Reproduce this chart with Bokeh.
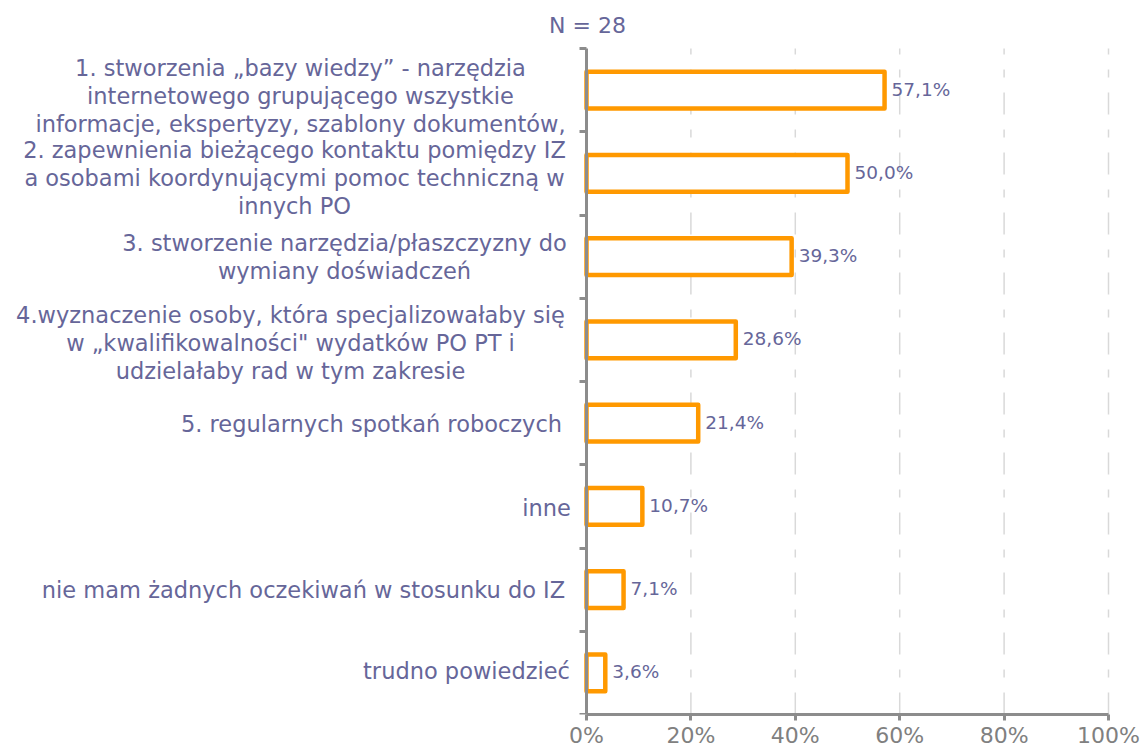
from bokeh.plotting import figure
from bokeh.models import Range1d, FixedTicker, PrintfTickFormatter, ColumnDataSource
from bokeh.core.properties import value
from bokeh.embed import file_html
from bokeh.resources import INLINE

# ---- data ----
categories = [
    "1. stworzenia \u201ebazy wiedzy\u201d - narz\u0119dzia\ninternetowego grupuj\u0105cego wszystkie\ninformacje, ekspertyzy, szablony dokument\u00f3w,",
    "2. zapewnienia bie\u017c\u0105cego kontaktu pomi\u0119dzy IZ\na osobami koordynuj\u0105cymi pomoc techniczn\u0105 w\ninnych PO",
    "3. stworzenie narz\u0119dzia/p\u0142aszczyzny do\nwymiany do\u015bwiadcze\u0144",
    "4.wyznaczenie osoby, kt\u00f3ra specjalizowa\u0142aby si\u0119\nw \u201ekwalifikowalno\u015bci\" wydatk\u00f3w PO PT i\nudziela\u0142aby rad w tym zakresie",
    "5. regularnych spotka\u0144 roboczych",
    "inne",
    "nie mam \u017cadnych oczekiwa\u0144 w stosunku do IZ",
    "trudno powiedzie\u0107",
]
values = [57.1, 50.0, 39.3, 28.6, 21.4, 10.7, 7.1, 3.6]
x_ticks = [0, 20, 40, 60, 80, 100]
n_label = "N = 28"

# ---- styles / layout ----
TEXT = "#666699"
FONT = "DejaVu Sans"
ORANGE = "#FF9900"
AXIS = "#8C8C8C"
W, H = 1142, 751
AXIS_X = 586            # pixel position of 0 %
FULL_X = 1108           # pixel position of 100 %
FRAME_TOP_PLOT = 48     # pixel of top of category area
FRAME_BOTTOM = 714      # pixel of x axis
BORDER_LEFT = 10
# horizontal centre of each category text block, px from the y axis
label_center_offsets = [-286, -292, -242, -296, -215, -40, -283, -120]
label_y_offsets = [6, 5, 0, 3, 1, 2, 0, -2]

n = len(categories)
ypos = [n - i - 0.5 for i in range(n)]
labels = [f"{v:.1f}".replace(".", ",") + "%" for v in values]

pxu = (FULL_X - AXIS_X) / 100.0
x_start = -(AXIS_X - BORDER_LEFT) / pxu
x_end = 100 + (W - FULL_X) / pxu
pyu = (FRAME_BOTTOM - FRAME_TOP_PLOT) / n
y_end = n + FRAME_TOP_PLOT / pyu

p = figure(width=W, height=H, output_backend="svg", toolbar_location=None,
           x_range=Range1d(x_start, x_end), y_range=Range1d(0, y_end),
           min_border_left=BORDER_LEFT, min_border_right=0, min_border_top=0,
           min_border_bottom=H - FRAME_BOTTOM)
p.outline_line_color = None
p.background_fill_color = "white"
p.border_fill_color = "white"
p.xgrid.grid_line_color = None
p.ygrid.grid_line_color = None

# dashed vertical gridlines
p.segment(x0=x_ticks[1:], x1=x_ticks[1:], y0=[0] * (len(x_ticks) - 1), y1=[n] * (len(x_ticks) - 1),
          line_color="#D9D9D9", line_width=1.5, line_dash="22 15 8 15")

src = ColumnDataSource(dict(y=ypos, v=values, lab=labels, cat=categories,
                            xo=label_center_offsets, yo=label_y_offsets))
p.hbar(y="y", left=0, right="v", height=0.44, source=src,
       fill_color="white", line_color=ORANGE, line_width=4.5, line_join="round")
p.text(x="v", y="y", text="lab", source=src, x_offset=7, y_offset=-1,
       text_font=value(FONT), text_font_size="18.5px", text_color=TEXT,
       text_baseline="middle", text_align="left")

# category labels
p.text(x=0, y="y", text="cat", source=src, x_offset="xo", y_offset="yo",
       text_font=value(FONT), text_font_size="22.5px", text_color=TEXT,
       text_align="center", text_baseline="middle", text_line_height=1.075)

# N label
p.text(x=[0], y=[n + (FRAME_TOP_PLOT - 25) / pyu], text=[n_label], x_offset=1,
       text_font=value(FONT), text_font_size="22px", text_color=TEXT,
       text_align="center", text_baseline="middle")

# x axis
xa = p.xaxis[0]
xa.bounds = (0, 100)
xa.ticker = FixedTicker(ticks=x_ticks)
xa.formatter = PrintfTickFormatter(format="%d%%")
xa.axis_line_color = AXIS
xa.axis_line_width = 3
xa.major_tick_line_color = AXIS
xa.major_tick_line_width = 3
xa.major_tick_out = 6
xa.major_tick_in = 0
xa.minor_tick_line_color = None
xa.major_label_text_font = FONT
xa.major_label_text_font_size = "22px"
xa.major_label_text_color = "#808080"
xa.major_label_standoff = 2

# y axis at 0 %, ticks at category boundaries, no labels
ya = p.yaxis[0]
ya.fixed_location = 0
ya.bounds = (0, n)
ya.ticker = FixedTicker(ticks=list(range(n + 1)))
ya.axis_line_color = AXIS
ya.axis_line_width = 3
ya.major_tick_line_color = AXIS
ya.major_tick_line_width = 3
ya.major_tick_out = 7
ya.major_tick_in = 0
ya.minor_tick_line_color = None
ya.major_label_overrides = {i: "" for i in range(n + 1)}
ya.major_label_standoff = 0

open("out.html", "w").write(file_html(p, INLINE))
